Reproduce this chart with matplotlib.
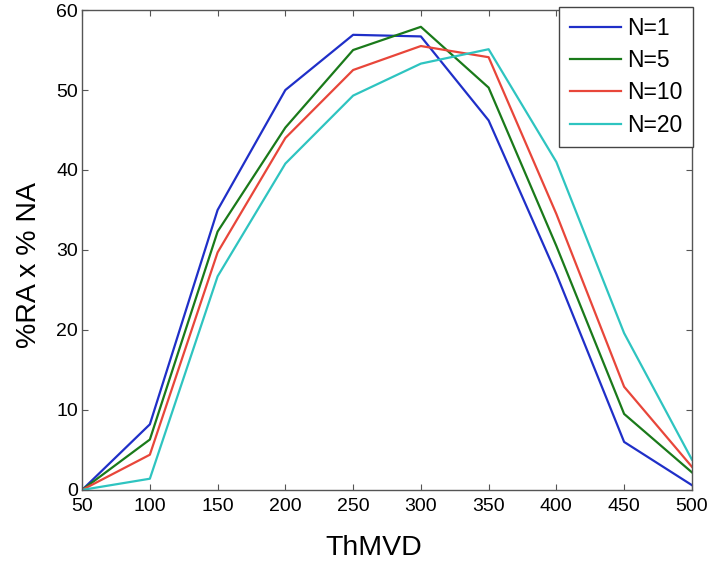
import matplotlib
matplotlib.use("Agg")
import matplotlib.pyplot as plt

# ThMVD thresholds
thmvd = [50, 100, 150, 200, 250, 300, 350, 400, 450, 500]

# %RA x %NA for each N
n1 = [0, 8.2, 35.0, 50.0, 56.9, 56.7, 46.2, 27.0, 6.0, 0.6]
n5 = [0, 6.3, 32.3, 45.3, 55.0, 57.9, 50.3, 30.5, 9.5, 2.2]
n10 = [0, 4.4, 29.7, 44.0, 52.5, 55.5, 54.1, 34.5, 12.9, 2.9]
n20 = [0, 1.4, 26.7, 40.8, 49.3, 53.3, 55.1, 41.0, 19.6, 3.8]

labels = ["N=1", "N=5", "N=10", "N=20"]
colors = ["#1f2fc8", "#1a7a1a", "#e8463a", "#2ec4c0"]

plt.rcParams["font.family"] = ["Liberation Sans", "DejaVu Sans"]

fig = plt.figure(figsize=(7.14, 5.73), dpi=100)
ax = fig.add_axes([0.115, 0.145, 0.854, 0.8375])

for ys, lab, c in zip([n1, n5, n10, n20], labels, colors):
    ax.plot(thmvd, ys, color=c, lw=1.6, label=lab)

ax.set_xlim(50, 500)
ax.set_ylim(0, 60)
ax.set_xticks(range(50, 501, 50))
ax.set_yticks(range(0, 61, 10))
ax.tick_params(direction="in", top=True, right=True, length=4,
               labelsize=14, color="#555555")
ax.tick_params(axis="x", pad=6)
ax.tick_params(axis="y", pad=3)
for s in ax.spines.values():
    s.set_color("#555555")
    s.set_linewidth(1.0)

ax.set_xlabel("ThMVD", fontsize=20.5)
ax.set_ylabel("%RA x % NA", fontsize=20.5)
ax.xaxis.set_label_coords(0.478, -0.094)
ax.yaxis.set_label_coords(-0.066, 0.468)

leg = ax.legend(loc="upper right", bbox_to_anchor=(0.9706, 0.9878),
                bbox_transform=fig.transFigure, borderaxespad=0,
                fancybox=False, fontsize=16.5, handlelength=2.25,
                labelspacing=0.4, handletextpad=0.28, borderpad=0.44,
                framealpha=1)
leg.get_frame().set_edgecolor("#444444")
leg.get_frame().set_linewidth(1.0)

fig.savefig("out.png", dpi=100)
